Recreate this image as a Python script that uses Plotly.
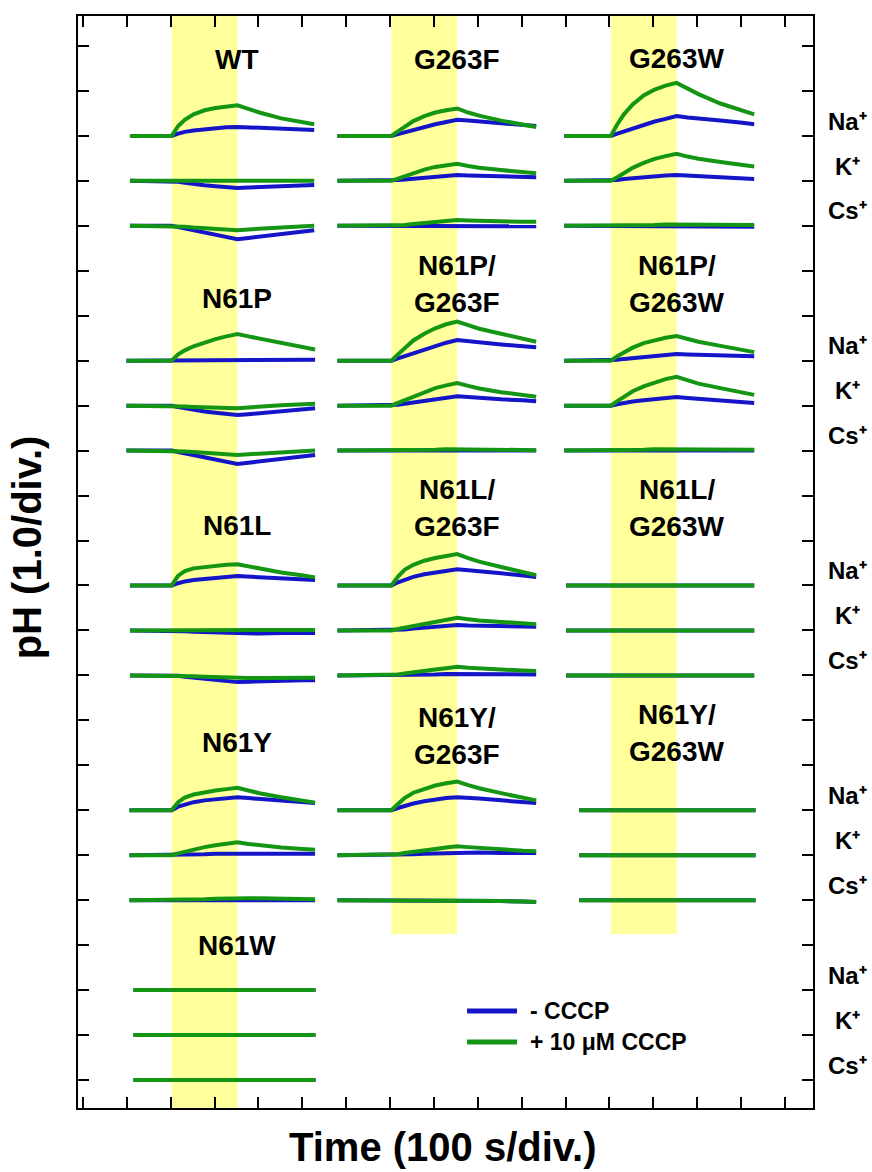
import plotly.graph_objects as go

# ---------------------------------------------------------------- data
# Panels in reading order (three columns, five rows)
panel_names = ["WT", "G263F", "G263W",
               "N61P", "N61P/G263F", "N61P/G263W",
               "N61L", "N61L/G263F", "N61L/G263W",
               "N61Y", "N61Y/G263F", "N61Y/G263W",
               "N61W"]
ion_labels = ["Na\u207a", "K\u207a", "Cs\u207a"]

# illumination window (s, relative to light on)
light_on_s = 0
light_off_s = 150

# sample times after light on (s); each trace also has a recording start/end
t_light = [0, 15, 30, 50, 75, 100, 125, 150, 175, 200, 250, 300]
rec_start = [-95, -123, -106, -103, -123, -106, -95, -123, -102, -96, -123, -72, -87]
rec_end = [325, 330, 327, 327, 330, 327, 327, 330, 327, 327, 330, 330, 328]

# delta pH at [start] + t_light + [end]; rows are Na+, K+, Cs+
WT_ctrl = [[0, 0, 0.05, 0.09, 0.12, 0.15, 0.17, 0.19, 0.20, 0.19, 0.18, 0.16, 0.14, 0.13],
           [0, 0, -0.02, -0.04, -0.07, -0.10, -0.12, -0.14, -0.16, -0.15, -0.14, -0.12, -0.10, -0.09],
           [0, 0, -0.03, -0.06, -0.10, -0.15, -0.20, -0.25, -0.30, -0.27, -0.24, -0.17, -0.12, -0.10]]
WT_cccp = [[0, 0, 0.22, 0.36, 0.48, 0.57, 0.62, 0.66, 0.68, 0.60, 0.52, 0.39, 0.30, 0.26],
           [0, 0, 0.00, -0.01, -0.01, -0.02, -0.02, -0.02, -0.02, -0.02, -0.01, 0.00, 0.00, 0.00],
           [0, 0, -0.01, -0.02, -0.04, -0.06, -0.07, -0.09, -0.10, -0.08, -0.07, -0.04, -0.01, 0.00]]

G263F_ctrl = [[0, 0, 0.04, 0.08, 0.14, 0.20, 0.26, 0.31, 0.36, 0.34, 0.32, 0.28, 0.24, 0.22],
              [0, 0, 0.02, 0.03, 0.05, 0.07, 0.09, 0.11, 0.13, 0.12, 0.11, 0.10, 0.09, 0.08],
              [0, 0, 0.00, 0.00, -0.01, -0.01, -0.01, -0.01, -0.01, -0.01, -0.01, -0.01, -0.01, -0.01]]
G263F_cccp = [[0, 0, 0.10, 0.20, 0.33, 0.44, 0.52, 0.57, 0.61, 0.52, 0.45, 0.34, 0.25, 0.20],
              [0, 0, 0.05, 0.10, 0.17, 0.25, 0.31, 0.35, 0.38, 0.33, 0.29, 0.24, 0.20, 0.17],
              [0, 0, 0.01, 0.02, 0.04, 0.06, 0.09, 0.11, 0.13, 0.12, 0.11, 0.10, 0.09, 0.09]]

G263W_ctrl = [[0, 0, 0.05, 0.10, 0.17, 0.25, 0.32, 0.38, 0.44, 0.41, 0.38, 0.34, 0.29, 0.26],
              [0, 0, 0.02, 0.04, 0.06, 0.08, 0.10, 0.12, 0.13, 0.12, 0.10, 0.08, 0.06, 0.04],
              [0, 0, 0.00, 0.00, -0.01, -0.01, -0.02, -0.02, -0.02, -0.02, -0.02, -0.02, -0.02, -0.02]]
G263W_cccp = [[0, 0, 0.26, 0.48, 0.70, 0.90, 1.03, 1.12, 1.18, 1.05, 0.93, 0.72, 0.56, 0.48],
              [0, 0, 0.08, 0.17, 0.29, 0.40, 0.49, 0.55, 0.60, 0.54, 0.49, 0.42, 0.36, 0.32],
              [0, 0, 0.00, 0.01, 0.01, 0.02, 0.02, 0.03, 0.03, 0.03, 0.03, 0.02, 0.02, 0.02]]

N61P_ctrl = [[0, 0, 0.01, 0.01, 0.02, 0.02, 0.02, 0.02, 0.02, 0.02, 0.02, 0.02, 0.02, 0.02],
             [0, 0, -0.03, -0.06, -0.09, -0.13, -0.16, -0.19, -0.21, -0.19, -0.17, -0.13, -0.09, -0.06],
             [0, 0, -0.03, -0.06, -0.10, -0.15, -0.20, -0.25, -0.30, -0.27, -0.24, -0.18, -0.13, -0.10]]
N61P_cccp = [[0, 0, 0.14, 0.23, 0.32, 0.41, 0.48, 0.54, 0.59, 0.54, 0.49, 0.39, 0.30, 0.25],
             [0, 0, -0.01, -0.02, -0.03, -0.04, -0.05, -0.05, -0.06, -0.04, -0.02, 0.01, 0.03, 0.04],
             [0, 0, -0.01, -0.02, -0.03, -0.05, -0.07, -0.09, -0.10, -0.08, -0.07, -0.04, -0.01, 0.00]]

N61P_G263F_ctrl = [[0, 0, 0.05, 0.10, 0.17, 0.25, 0.32, 0.40, 0.46, 0.43, 0.40, 0.36, 0.32, 0.30],
                   [0, 0, 0.02, 0.04, 0.07, 0.10, 0.14, 0.18, 0.21, 0.19, 0.17, 0.14, 0.12, 0.10],
                   [0, 0, 0.00, 0.00, 0.00, 0.00, 0.00, 0.00, 0.00, 0.00, 0.00, 0.00, 0.00, 0.00]]
N61P_G263F_cccp = [[0, 0, 0.14, 0.28, 0.45, 0.60, 0.72, 0.81, 0.87, 0.79, 0.71, 0.60, 0.50, 0.42],
                   [0, 0, 0.06, 0.12, 0.21, 0.31, 0.39, 0.45, 0.50, 0.44, 0.38, 0.30, 0.24, 0.20],
                   [0, 0, 0.00, 0.01, 0.01, 0.02, 0.02, 0.03, 0.03, 0.03, 0.02, 0.02, 0.02, 0.01]]

N61P_G263W_ctrl = [[0, 0, 0.02, 0.04, 0.06, 0.08, 0.10, 0.13, 0.15, 0.14, 0.13, 0.12, 0.11, 0.10],
                   [0, 0, 0.03, 0.06, 0.09, 0.12, 0.15, 0.17, 0.19, 0.17, 0.15, 0.11, 0.08, 0.06],
                   [0, 0, 0.00, 0.00, 0.00, 0.00, 0.00, 0.00, 0.00, 0.00, 0.00, 0.00, 0.00, 0.00]]
N61P_G263W_cccp = [[0, 0, 0.10, 0.19, 0.29, 0.39, 0.46, 0.51, 0.55, 0.48, 0.42, 0.33, 0.25, 0.19],
                   [0, 0, 0.10, 0.20, 0.32, 0.43, 0.52, 0.59, 0.64, 0.56, 0.49, 0.39, 0.30, 0.24],
                   [0, 0, 0.00, 0.01, 0.01, 0.02, 0.03, 0.03, 0.04, 0.03, 0.03, 0.02, 0.02, 0.02]]

N61L_ctrl = [[0, 0, 0.05, 0.09, 0.12, 0.15, 0.17, 0.19, 0.21, 0.20, 0.18, 0.16, 0.14, 0.12],
             [0, 0, -0.01, -0.02, -0.03, -0.04, -0.05, -0.06, -0.07, -0.07, -0.07, -0.06, -0.06, -0.06],
             [0, 0, -0.01, -0.03, -0.05, -0.07, -0.10, -0.12, -0.15, -0.14, -0.13, -0.12, -0.11, -0.11]]
N61L_cccp = [[0, 0, 0.22, 0.32, 0.38, 0.41, 0.44, 0.46, 0.47, 0.42, 0.37, 0.29, 0.22, 0.18],
             [0, 0, 0.00, 0.00, 0.00, 0.01, 0.01, 0.01, 0.01, 0.01, 0.01, 0.01, 0.01, 0.01],
             [0, 0, -0.01, -0.01, -0.02, -0.03, -0.04, -0.05, -0.07, -0.06, -0.06, -0.05, -0.05, -0.05]]

N61L_G263F_ctrl = [[0, 0, 0.07, 0.13, 0.19, 0.25, 0.29, 0.33, 0.36, 0.34, 0.31, 0.27, 0.22, 0.19],
                   [0, 0, 0.01, 0.02, 0.04, 0.06, 0.08, 0.10, 0.12, 0.11, 0.11, 0.10, 0.09, 0.08],
                   [0, 0, 0.00, 0.01, 0.01, 0.02, 0.02, 0.03, 0.03, 0.03, 0.03, 0.03, 0.02, 0.02]]
N61L_G263F_cccp = [[0, 0, 0.20, 0.35, 0.46, 0.55, 0.61, 0.66, 0.70, 0.61, 0.53, 0.41, 0.30, 0.23],
                   [0, 0, 0.03, 0.06, 0.10, 0.15, 0.19, 0.24, 0.28, 0.25, 0.22, 0.19, 0.16, 0.14],
                   [0, 0, 0.02, 0.04, 0.07, 0.10, 0.13, 0.16, 0.19, 0.17, 0.15, 0.13, 0.11, 0.10]]

N61L_G263W_ctrl = [[0, 0, 0.00, 0.00, 0.00, 0.00, 0.00, 0.00, 0.00, 0.00, 0.00, 0.00, 0.00, 0.00],
                   [0, 0, 0.00, 0.00, 0.00, 0.00, 0.00, 0.00, 0.00, 0.00, 0.00, 0.00, 0.00, 0.00],
                   [0, 0, 0.00, 0.00, 0.00, 0.00, 0.00, 0.00, 0.00, 0.00, 0.00, 0.00, 0.00, 0.00]]
N61L_G263W_cccp = [[0, 0, 0.00, 0.00, 0.00, 0.00, 0.00, 0.00, 0.00, 0.00, 0.00, 0.00, 0.00, 0.00],
                   [0, 0, 0.00, 0.00, 0.00, 0.00, 0.00, 0.00, 0.00, 0.00, 0.00, 0.00, 0.00, 0.00],
                   [0, 0, 0.00, 0.00, 0.00, 0.00, 0.00, 0.00, 0.00, 0.00, 0.00, 0.00, 0.00, 0.00]]

N61Y_ctrl = [[0, 0, 0.08, 0.13, 0.18, 0.22, 0.25, 0.27, 0.29, 0.27, 0.25, 0.22, 0.18, 0.16],
             [0, 0, 0.01, 0.01, 0.02, 0.02, 0.03, 0.03, 0.04, 0.04, 0.04, 0.03, 0.03, 0.03],
             [0, 0, 0.00, 0.00, 0.00, 0.00, 0.00, 0.00, 0.00, 0.00, 0.00, 0.00, 0.00, 0.00]]
N61Y_cccp = [[0, 0, 0.18, 0.28, 0.35, 0.40, 0.44, 0.47, 0.50, 0.44, 0.38, 0.29, 0.21, 0.17],
             [0, 0, 0.04, 0.08, 0.13, 0.18, 0.22, 0.26, 0.29, 0.25, 0.22, 0.17, 0.14, 0.12],
             [0, 0, 0.00, 0.01, 0.01, 0.02, 0.03, 0.04, 0.05, 0.04, 0.04, 0.03, 0.02, 0.02]]

N61Y_G263F_ctrl = [[0, 0, 0.05, 0.10, 0.15, 0.20, 0.24, 0.27, 0.29, 0.28, 0.26, 0.22, 0.18, 0.16],
                   [0, 0, 0.01, 0.01, 0.02, 0.03, 0.04, 0.05, 0.06, 0.06, 0.06, 0.05, 0.05, 0.05],
                   [0, 0, 0.00, 0.00, 0.00, 0.00, 0.00, 0.00, 0.00, -0.01, -0.01, -0.02, -0.03, -0.04]]
N61Y_G263F_cccp = [[0, 0, 0.14, 0.27, 0.39, 0.48, 0.55, 0.60, 0.64, 0.56, 0.49, 0.38, 0.28, 0.22],
                   [0, 0, 0.02, 0.05, 0.08, 0.11, 0.14, 0.17, 0.20, 0.18, 0.16, 0.13, 0.10, 0.09],
                   [0, 0, 0.00, 0.00, 0.00, 0.00, 0.00, 0.00, 0.00, -0.01, -0.01, -0.02, -0.03, -0.04]]

N61Y_G263W_ctrl = [[0, 0, 0.00, 0.00, 0.00, 0.00, 0.00, 0.00, 0.00, 0.00, 0.00, 0.00, 0.00, 0.00],
                   [0, 0, 0.00, 0.00, 0.00, 0.00, 0.00, 0.00, 0.00, 0.00, 0.00, 0.00, 0.00, 0.00],
                   [0, 0, 0.00, 0.00, 0.00, 0.00, 0.00, 0.00, 0.00, 0.00, 0.00, 0.00, 0.00, 0.00]]
N61Y_G263W_cccp = [[0, 0, 0.00, 0.00, 0.00, 0.00, 0.00, 0.00, 0.00, 0.00, 0.00, 0.00, 0.00, 0.00],
                   [0, 0, 0.00, 0.00, 0.00, 0.00, 0.00, 0.00, 0.00, 0.00, 0.00, 0.00, 0.00, 0.00],
                   [0, 0, 0.00, 0.00, 0.00, 0.00, 0.00, 0.00, 0.00, 0.00, 0.00, 0.00, 0.00, 0.00]]

N61W_ctrl = [[0, 0, 0.00, 0.00, 0.00, 0.00, 0.00, 0.00, 0.00, 0.00, 0.00, 0.00, 0.00, 0.00],
             [0, 0, 0.00, 0.00, 0.00, 0.00, 0.00, 0.00, 0.00, 0.00, 0.00, 0.00, 0.00, 0.00],
             [0, 0, 0.00, 0.00, 0.00, 0.00, 0.00, 0.00, 0.00, 0.00, 0.00, 0.00, 0.00, 0.00]]
N61W_cccp = [[0, 0, 0.00, 0.00, 0.00, 0.00, 0.00, 0.00, 0.00, 0.00, 0.00, 0.00, 0.00, 0.00],
             [0, 0, 0.00, 0.00, 0.00, 0.00, 0.00, 0.00, 0.00, 0.00, 0.00, 0.00, 0.00, 0.00],
             [0, 0, 0.00, 0.00, 0.00, 0.00, 0.00, 0.00, 0.00, 0.00, 0.00, 0.00, 0.00, 0.00]]

ctrl_sets = [WT_ctrl, G263F_ctrl, G263W_ctrl,
             N61P_ctrl, N61P_G263F_ctrl, N61P_G263W_ctrl,
             N61L_ctrl, N61L_G263F_ctrl, N61L_G263W_ctrl,
             N61Y_ctrl, N61Y_G263F_ctrl, N61Y_G263W_ctrl,
             N61W_ctrl]
cccp_sets = [WT_cccp, G263F_cccp, G263W_cccp,
             N61P_cccp, N61P_G263F_cccp, N61P_G263W_cccp,
             N61L_cccp, N61L_G263F_cccp, N61L_G263W_cccp,
             N61Y_cccp, N61Y_G263F_cccp, N61Y_G263W_cccp,
             N61W_cccp]

# ---------------------------------------------------------------- layout
col_origin = [2.02, 7.03, 12.03]      # light-on position of each column (div)
row_base = [21, 16, 11, 6, 2]         # Na+ baseline of each panel row (div)
title_dy = [1.71, 1.69, 1.73, 1.39, 1.70, 1.70, 1.34, 1.72, 1.72, 1.50, 1.66, 1.72, 1.00]
title_line_gap = 0.82                 # spacing of two-line titles (div)
s_per_div = 100.0

X_RANGE = [-0.114, 16.64]
Y_RANGE = [-0.623, 23.667]

BLUE = "#1414C8"
GREEN = "#149614"
BAND = "#FFFF9C"
FONT = "Liberation Sans, Arial, Helvetica, sans-serif"


def bold(size):
    return dict(family=FONT, size=size, color="black", weight="bold")


fig = go.Figure()

for i, name in enumerate(panel_names):
    col, row = i % 3, i // 3
    times = [rec_start[i]] + t_light + [rec_end[i]]
    xs = [col_origin[col] + t / s_per_div for t in times]
    for k in range(3):
        base = row_base[row] - k
        for series, color in ((ctrl_sets[i][k], BLUE), (cccp_sets[i][k], GREEN)):
            fig.add_trace(go.Scatter(
                x=xs, y=[base + v for v in series], mode="lines",
                line=dict(color=color, width=4), hoverinfo="skip",
                showlegend=False))

# illumination bands
band_bottom = [Y_RANGE[0], 3.25, 3.25]
for col in range(3):
    fig.add_shape(type="rect", xref="x", yref="y", layer="below",
                  x0=col_origin[col] + light_on_s / s_per_div,
                  x1=col_origin[col] + light_off_s / s_per_div,
                  y0=band_bottom[col], y1=Y_RANGE[1],
                  fillcolor=BAND, line=dict(width=0))

annotations = []
# panel titles (double mutants on two lines)
for i, name in enumerate(panel_names):
    col, row = i % 3, i // 3
    xc = col_origin[col] + light_off_s / s_per_div
    yc = row_base[row] + title_dy[i]
    if "/" in name:
        first, second = name.split("/")
        lines = [(first + "/", yc + title_line_gap / 2), (second, yc - title_line_gap / 2)]
    else:
        lines = [(name, yc)]
    for txt, yy in lines:
        annotations.append(dict(
            x=xc, y=yy, xref="x", yref="y", text=txt, showarrow=False,
            xanchor="center", yanchor="middle", font=bold(28)))

# ion labels on the right
for row in range(5):
    for k, lab in enumerate(ion_labels):
        annotations.append(dict(
            x=1.0476, xref="paper", y=row_base[row] - k + 0.33, yref="y",
            text=lab, showarrow=False, xanchor="center",
            yanchor="middle", font=bold(24)))

# axis titles
annotations.append(dict(x=-0.069, xref="paper", y=0.5137, yref="paper",
                        text="pH (1.0/div.)", textangle=-90, showarrow=False,
                        xanchor="center", yanchor="middle", font=bold(40)))
annotations.append(dict(x=0.496, xref="paper", y=-0.0357, yref="paper",
                        text="Time (100 s/div.)", showarrow=False,
                        xanchor="center", yanchor="middle", font=bold(40)))

# legend
legend_items = [("- CCCP", BLUE, 0.0888), ("+ 10 μM CCCP", GREEN, 0.0604)]
for label, color, yy in legend_items:
    fig.add_shape(type="line", xref="paper", yref="paper",
                  x0=0.5293, x1=0.5973, y0=yy, y1=yy,
                  line=dict(color=color, width=5))
    annotations.append(dict(x=0.6122, xref="paper", y=yy, yref="paper",
                            text=label, showarrow=False,
                            xanchor="left", yanchor="middle", font=bold(23)))

axis_common = dict(showgrid=False, zeroline=False, showticklabels=False,
                   ticks="inside", ticklen=11, tickwidth=2, tickcolor="black",
                   showline=True, linewidth=2, linecolor="black", mirror="ticks",
                   tickmode="linear", tick0=0, dtick=1)

fig.update_layout(
    width=872, height=1172,
    margin=dict(l=78, r=59, t=16, b=64),
    paper_bgcolor="white", plot_bgcolor="white",
    showlegend=False,
    xaxis=dict(range=X_RANGE, **axis_common),
    yaxis=dict(range=Y_RANGE, **axis_common),
    annotations=annotations,
)

fig.write_html("out.html")
